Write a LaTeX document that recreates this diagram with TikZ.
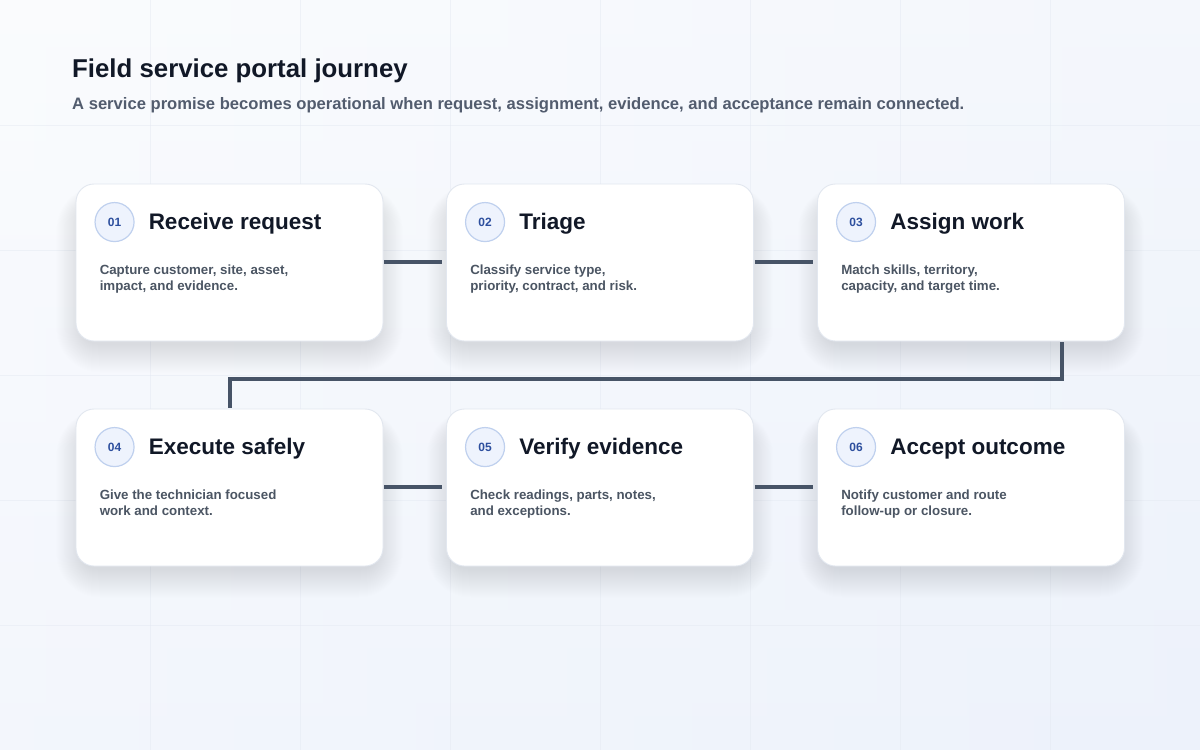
\documentclass[tikz,border=0pt]{standalone}
\usepackage{fontspec}
\setmainfont{Liberation Sans}
\usetikzlibrary{positioning,calc}
\definecolor{bgtop}{HTML}{F8FAFD}
\definecolor{bgbot}{HTML}{EDF2FB}
\definecolor{gridc}{HTML}{E3E8F1}
\definecolor{titlec}{HTML}{111827}
\definecolor{subc}{HTML}{525C6E}
\definecolor{descc}{HTML}{4B5563}
\definecolor{connc}{HTML}{475467}
\definecolor{cardline}{HTML}{E2E7EF}
\definecolor{numfill}{HTML}{EEF3FD}
\definecolor{numline}{HTML}{BFD0EE}
\definecolor{numtext}{HTML}{2D4F9E}
\definecolor{shadowc}{HTML}{6B7690}
\tikzset{
  card/.style={rectangle, rounded corners=18pt, minimum width=307pt, minimum height=157pt, fill=white, draw=cardline, line width=0.9pt, inner sep=0pt},
  numbadge/.style={circle, minimum size=39pt, inner sep=0pt, fill=numfill, draw=numline, line width=1.2pt, text=numtext, font=\fontsize{12}{14}\selectfont\bfseries},
  cardtitle/.style={anchor=base west, inner sep=0pt, text=titlec, font=\fontsize{22.5}{26}\selectfont\bfseries},
  carddesc/.style={anchor=north west, inner sep=0pt, align=left, text=descc, font=\fontsize{13.3}{16}\selectfont\bfseries},
  conn/.style={draw=connc, line width=4pt, line join=miter},
}
\newcommand{\cardshadow}[2]{%
  \foreach \k in {0,...,28}{
    \pgfmathsetmacro{\rr}{16+\k}
    \fill[shadowc, opacity=0.0055, rounded corners=\rr pt]
      ($(#1,#2)+(-148-\k*0.9,-60-\k*0.6)$) rectangle ($(#1,#2)+(148+\k*0.9,82+\k*1.0)$);
  }%
}
\newcommand{\mkcard}[6]{%
  % #1 name, #2 x, #3 y, #4 number, #5 title, #6 description
  \node[card] (#1) at (#2,#3) {};
  \node[numbadge] (#1n) at ($(#1.north west)+(39,38.5)$) {#4};
  \node[cardtitle] (#1t) at ($(#1.north west)+(73,45.5)$) {#5};
  \node[carddesc] (#1d) at ($(#1.north west)+(24,81.5)$) {#6};
}
\begin{document}
\begin{tikzpicture}[x=1pt,y=-1pt]
\useasboundingbox (0,0) rectangle (1200,750);
\shade[top color=bgtop, bottom color=bgbot] (0,0) rectangle (1200,750);
\shade[left color=white, right color=bgbot, opacity=0.35] (0,0) rectangle (1200,750);
\foreach \gx in {150,300,...,1050}{\draw[gridc, line width=0.8pt, opacity=0.45] (\gx,0) -- (\gx,750);}
\foreach \gy in {125,250,...,625}{\draw[gridc, line width=0.8pt, opacity=0.45] (0,\gy) -- (1200,\gy);}

\node[anchor=base west, inner sep=0pt, text=titlec, font=\fontsize{25.8}{30}\selectfont\bfseries] (title) at (72,77) {Field service portal journey};
\node[anchor=base west, inner sep=0pt, text=subc, font=\fontsize{16.6}{19}\selectfont\bfseries] (subtitle) at (72,109) {A service promise becomes operational when request, assignment, evidence, and acceptance remain connected.};

\cardshadow{229.5}{262.5}
\cardshadow{600}{262.5}
\cardshadow{971}{262.5}
\cardshadow{229.5}{487.5}
\cardshadow{600}{487.5}
\cardshadow{971}{487.5}

\mkcard{c1}{229.5}{262.5}{01}{Receive request}{Capture customer, site, asset,\\impact, and evidence.}
\mkcard{c2}{600}{262.5}{02}{Triage}{Classify service type,\\priority, contract, and risk.}
\mkcard{c3}{971}{262.5}{03}{Assign work}{Match skills, territory,\\capacity, and target time.}
\mkcard{c4}{229.5}{487.5}{04}{Execute safely}{Give the technician focused\\work and context.}
\mkcard{c5}{600}{487.5}{05}{Verify evidence}{Check readings, parts, notes,\\and exceptions.}
\mkcard{c6}{971}{487.5}{06}{Accept outcome}{Notify customer and route\\follow-up or closure.}

\draw[conn] ([xshift=1pt,yshift=0.5pt]c1.east) -- ([xshift=-4pt,yshift=0.5pt]c2.west);
\draw[conn] ([xshift=1pt,yshift=0.5pt]c2.east) -- ([xshift=-4pt,yshift=0.5pt]c3.west);
\draw[conn] ([xshift=91pt,yshift=-1pt]c3.south) -- ++(0,37) -| ([yshift=1pt]c4.north);
\draw[conn] ([xshift=1pt,yshift=0.5pt]c4.east) -- ([xshift=-4pt,yshift=0.5pt]c5.west);
\draw[conn] ([xshift=1pt,yshift=0.5pt]c5.east) -- ([xshift=-4pt,yshift=0.5pt]c6.west);
\end{tikzpicture}
\end{document}
